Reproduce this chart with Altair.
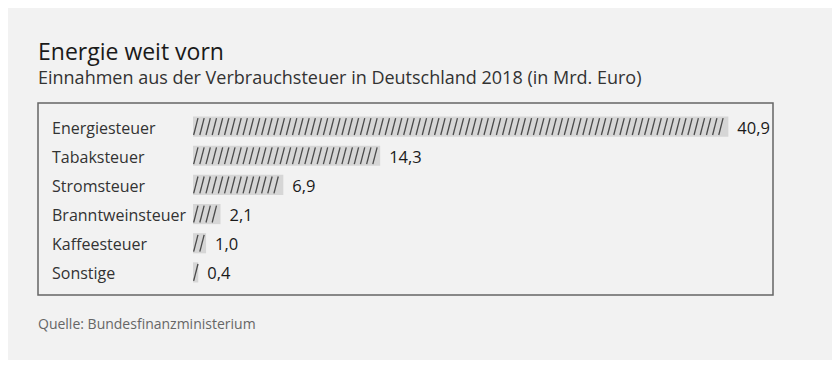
import altair as alt
import pandas as pd

FONT = "Open Sans"

categories = ["Energiesteuer", "Tabaksteuer", "Stromsteuer", "Branntweinsteuer", "Kaffeesteuer", "Sonstige"]
values = [40.9, 14.3, 6.9, 2.1, 1.0, 0.4]
value_labels = ["40,9", "14,3", "6,9", "2,1", "1,0", "0,4"]

title_text = "Energie weit vorn"
subtitle_text = "Einnahmen aus der Verbrauchsteuer in Deutschland 2018 (in Mrd. Euro)"
source_text = "Quelle: Bundesfinanzministerium"

df = pd.DataFrame({"cat": categories, "value": values, "label": value_labels})

# hatch strokes drawn across each bar (decoration derived from the values)
HSTEP, HSLANT, HSTART = 0.472, 0.33, 0.05
rows = []
for c, v in zip(categories, values):
    p = HSTART
    while p + HSLANT <= v + 1e-9:
        rows.append({"cat": c, "x0": p, "x1": p + HSLANT})
        p += HSTEP
hatch_df = pd.DataFrame(rows)

x_scale = alt.Scale(domain=[0, 45], range=[155, 744])
y_scale = alt.Scale(domain=categories, range=[9, 184], paddingInner=0.31, paddingOuter=0.155)

bars = alt.Chart(df).mark_bar(color="#d6d6d6").encode(
    x=alt.X("value:Q", scale=x_scale, axis=None),
    y=alt.Y("cat:N", scale=y_scale, axis=None, sort=categories),
)

hatch = alt.Chart(hatch_df).mark_rule(color="#4a4a4a", strokeWidth=1.3).encode(
    x=alt.X("x0:Q", scale=x_scale, axis=None),
    x2="x1:Q",
    y=alt.Y("cat:N", scale=y_scale, axis=None, sort=categories, bandPosition=0.92),
    y2=alt.Y2("cat:N", bandPosition=0.08),
)

vals = alt.Chart(df).mark_text(
    align="left", baseline="middle", dx=9, dy=2, fontSize=16.5, color="#1a1a1a", font=FONT
).encode(
    x=alt.X("value:Q", scale=x_scale, axis=None),
    y=alt.Y("cat:N", scale=y_scale, axis=None, sort=categories),
    text="label:N",
)

cats = alt.Chart(df).mark_text(
    align="left", baseline="middle", dy=2, fontSize=16, color="#333333", font=FONT
).encode(
    x=alt.value(14),
    y=alt.Y("cat:N", scale=y_scale, axis=None, sort=categories),
    text="cat:N",
)

footer = alt.Chart(pd.DataFrame({"t": [source_text]})).mark_text(
    align="left", baseline="alphabetic", fontSize=14, color="#666666", font=FONT
).encode(x=alt.value(0), y=alt.value(226), text="t:N")

chart = alt.layer(bars, hatch, vals, cats, footer).properties(
    width=735,
    height=192,
    title=alt.Title(
        title_text,
        subtitle=subtitle_text,
        anchor="start",
        font=FONT,
        fontSize=23,
        fontWeight="normal",
        color="#1a1a1a",
        subtitleFont=FONT,
        subtitleFontSize=18,
        subtitleColor="#333333",
        subtitlePadding=5,
        offset=15,
    ),
    padding={"left": 30, "top": 95, "right": 59, "bottom": 65},
    autosize=alt.AutoSizeParams(type="none"),
    background="#f2f2f2",
).configure_view(stroke="#666666", strokeWidth=1.5)

chart.save("out.html", embed_options={"renderer": "svg", "actions": False})
